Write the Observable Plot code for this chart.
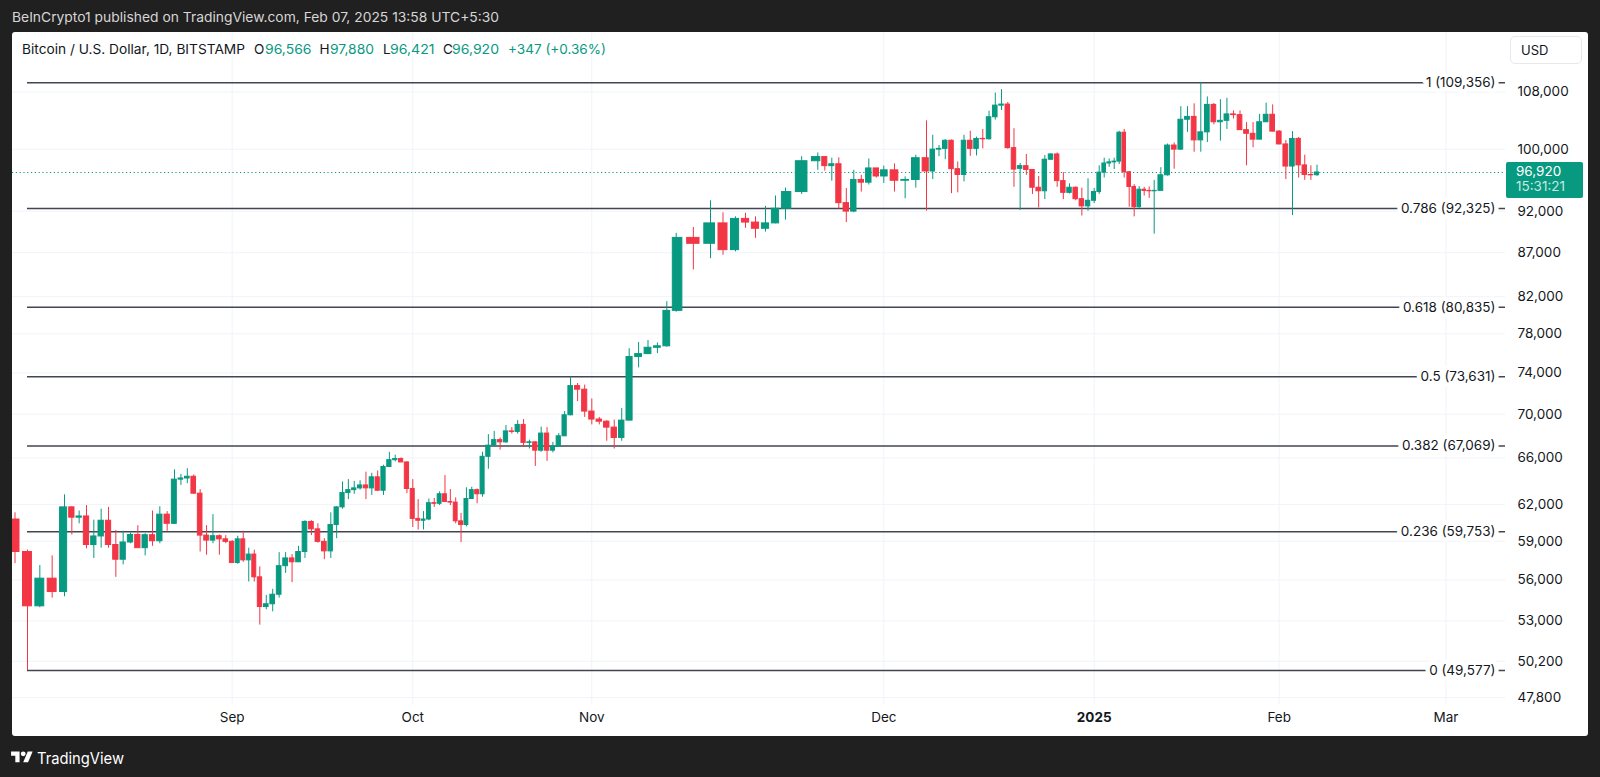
<!DOCTYPE html>
<html><head><meta charset="utf-8">
<script src="https://cdn.jsdelivr.net/npm/d3@7"></script>
<script src="https://cdn.jsdelivr.net/npm/@observablehq/plot@0.6"></script>
<style>
html,body{margin:0;padding:0;background:#202020;width:1600px;height:777px;overflow:hidden;font-family:Inter,"Noto Sans",sans-serif;}
#panel{position:absolute;left:12px;top:32px;width:1576px;height:704px;background:#fff;border-radius:3px;}
#chart{position:absolute;left:0;top:0;}
.t{position:absolute;white-space:nowrap;transform-origin:0 50%;line-height:1;}
</style></head>
<body>
<div id="panel"></div>
<div id="chart"></div>
<script>
// ---- data (Bitstamp BTC/USD daily, Aug 4 2024 – Feb 7 2025) ----
const firstDay = "2024-08-04", lastDay = "2025-02-07";
const open = [
 // Aug 4-31
 60750,58150,54050,56100,55100,61750,60900,61000,58700,59380,60650,58700,57550,58900,59500,58450,59480,59000,61150,60400,64100,64200,64350,62900,59450,59050,59400,59150,
 // Sep
 58950,57300,59150,57500,57950,56200,54000,54200,54900,57050,57650,57350,58150,60550,59950,58950,58200,60300,61750,62950,63200,63350,63600,63350,64300,63150,65200,65800,65900,65600,
 // Oct
 63300,60800,60650,60750,62100,62050,62850,62200,62150,60600,60300,62450,63200,62850,66100,67100,67600,67400,68400,68350,69000,67350,67400,66650,68200,66650,67000,67950,69900,72700,72350,
 // Nov
 70250,69500,69300,68750,67800,69400,75600,75900,76550,76700,80450,88750,88050,90500,87300,91050,90600,89850,90500,92300,94400,98400,98950,97750,98000,93000,91950,95950,95600,97450,
 // Dec
 96400,97200,95850,95950,98800,97050,99950,100050,101150,97350,96600,101150,100050,101400,101350,104400,106050,106200,100150,97400,97750,97250,94950,94500,98600,99300,95800,94300,94950,93500,92600,
 // Jan
 93300,94400,96900,98100,98250,98350,102250,96950,95050,92500,94700,94550,94500,94550,96550,100500,99950,104050,104450,101200,102300,106150,103700,103900,104800,104700,102600,102100,101300,103700,104750,
 // Feb 1-7
 102400,100650,97700,101400,97850,96600,96566
];
const high = [
 61300,58300,57100,57850,62800,61800,61450,61900,60700,61600,61750,59850,59800,59650,60250,59600,61450,61800,61400,64950,64550,65050,64500,63250,60250,61150,59500,59450,
 59050,59400,59800,58450,58300,57000,54850,55300,58100,58100,57950,58600,60650,60650,60400,59200,61300,61800,63900,64100,63950,64000,64750,64650,64850,65350,66500,66250,66000,65650,
 64100,62400,61400,62450,62500,63050,64450,63250,62550,61250,63400,63450,63300,66500,68100,68400,67800,68950,68750,69400,69500,67600,67450,68800,68750,67400,68200,70250,73600,72950,72800,
 71450,69700,69400,69450,70550,76450,77100,77300,77050,81450,89300,90000,93300,91800,91300,91750,91300,92600,93900,94900,99000,99500,98950,98800,98850,94850,97200,96550,98700,97450,
 97750,98050,96350,99200,103900,101900,100500,101300,101250,98300,101900,102450,101650,102700,105250,107850,108350,106500,102800,98100,99300,97300,96400,99150,99400,99500,96900,95450,95050,94900,96100,
 94850,97800,98800,98700,98800,102450,102700,97000,95350,95100,95000,95050,95900,97550,100700,100850,105900,105900,106300,109356,107300,106350,106900,107100,105300,105300,103650,103650,104800,106400,106150,
 102550,101200,102400,101600,99200,97800,97880
];
const low = [
 57250,49577,53950,54650,54750,59500,60400,58400,57650,58450,58450,56200,57150,58800,58450,57850,58600,58800,59800,60350,63600,63750,62850,58150,57900,58800,57900,58800,
 57250,57200,57350,55850,55850,52700,53800,53650,54650,56500,55800,57350,57650,59450,58850,57550,57650,59200,61600,62400,62850,63200,62400,62750,63100,62750,65150,65650,65650,62900,
 60100,59900,59900,60650,61750,61900,62150,61900,60400,58900,60150,62500,62050,62600,65000,67000,66700,67300,68150,68150,66950,66800,65250,66500,65700,66450,67000,67950,69850,71200,69700,
 69000,69000,67500,66800,67500,69400,74500,75850,75950,76600,80300,85000,86300,86700,87100,89900,88700,89450,90450,90900,94100,97200,97100,95800,92250,90600,91800,94400,95300,96200,
 95500,94400,93550,94900,92000,96000,99000,98600,94200,94300,95700,99050,99100,100050,101250,104000,105350,100000,95000,92100,96550,94100,92400,93450,98500,95000,93450,94150,93300,91400,92000,
 92950,94100,96200,97600,97300,97950,96200,92500,91300,92350,93900,93600,89200,94600,96450,97350,99850,102300,99600,99600,100900,103350,101100,102700,104150,102600,97800,100200,101300,103650,102350,
 100600,96000,91450,96200,95900,95900,96421
];
const close = [
 58150,54050,56100,55100,61750,60900,61000,58700,59380,60650,58700,57550,58900,59500,58450,59480,59000,61150,60400,64100,64200,64350,62900,59450,59050,59400,59150,58950,
 57300,59150,57500,57950,56200,54000,54200,54900,57050,57650,57350,58150,60550,59950,58950,58200,60300,61750,62950,63200,63350,63600,63350,64300,63150,65200,65800,65900,65600,63300,
 60800,60650,60750,62100,62050,62850,62200,62150,60600,60300,62450,63200,62850,66100,67100,67600,67400,68400,68350,69000,67350,67400,66650,68200,66650,67000,67950,69900,72700,72350,70250,
 69500,69300,68750,67800,69400,75600,75900,76550,76700,80450,88750,88050,90500,87300,91050,90600,89850,90500,92300,94400,98400,98950,97750,98000,93000,91950,95950,95600,97450,96400,
 97200,95850,95950,98800,97050,99950,100050,101150,97350,96600,101150,100050,101400,101350,104400,106050,106200,100150,97300,97750,97250,94950,94500,98600,99300,95800,94300,94950,93500,92600,93300,
 94400,96900,98100,98250,98350,102250,96950,95050,92500,94700,94550,94500,94550,96550,100500,99950,104050,104450,101200,102300,106150,103700,103900,104800,104700,102600,102100,101300,103700,104750,102400,
 100650,97700,101400,97850,96600,96550,96920
];
// Fibonacci retracement levels drawn on the chart
const fibLevels = [1, 0.786, 0.618, 0.5, 0.382, 0.236, 0];
const fibPrices = [109356, 92325, 80835, 73631, 67069, 59753, 49577];
const fibStartDay = "2024-08-05", fibEndDay = "2025-03-12";
// axis ticks
const priceTicks = [47800, 50200, 53000, 56000, 59000, 62000, 66000, 70000, 74000, 78000, 82000, 87000, 92000, 100000, 108000];
const monthTicks = ["2024-09-01","2024-10-01","2024-11-01","2024-12-01","2025-01-01","2025-02-01","2025-03-01"];
const monthLabels = ["Sep","Oct","Nov","Dec","2025","Feb","Mar"];
// header
const headerText = "BeInCrypto1 published on TradingView.com, Feb 07, 2025 13:58 UTC+5:30";
const symbolText = "Bitcoin / U.S. Dollar, 1D, BITSTAMP";
const lastChange = "+347 (+0.36%)";
const countdown = "15:31:21";

// ---- build table ----
const days = d3.utcDays(new Date(firstDay), d3.utcDay.offset(new Date(lastDay), 1));
const candles = days.map((d, i) => ({date: d, open: open[i], high: high[i], low: low[i], close: close[i]}));
const last = candles[candles.length - 1];
const up = "#089981", down = "#f23645";
const col = d => d.close >= d.open ? up : down;
const fibs = fibLevels.map((l, i) => ({level: l, price: fibPrices[i]}));
const ticksX = monthTicks.map((d, i) => ({date: new Date(d), label: monthLabels[i]}));
const fmt = d3.format(",");
const halfDay = 0.36 * 864e5;

const chart = Plot.plot({
  width: 1600, height: 777,
  marginLeft: 12, marginRight: 95, marginTop: 32, marginBottom: 73,
  style: {background: "transparent", fontFamily: "Inter, sans-serif", fontSize: "13.5px", overflow: "visible"},
  x: {type: "utc", axis: null,
      domain: ["2024-08-04","2024-08-05","2024-08-08","2024-08-23","2024-09-01","2024-09-06","2024-09-17","2024-10-01","2024-10-14","2024-10-29","2024-11-01","2024-11-06","2024-11-11","2024-11-13","2024-11-15","2024-11-20","2024-11-22","2024-11-25","2024-12-01","2024-12-05","2024-12-18","2025-01-01","2025-01-13","2025-01-20","2025-02-01","2025-02-03","2025-02-07","2025-03-01"].map(d => new Date(d)),
      range: [14.5,27,64,174,231.7,259.3,330.3,412.3,482,570,591.3,628.7,675.7,710,735,785,817.3,838.3,883.3,926,1007.3,1093.7,1153.7,1200.3,1278.7,1292,1316.5,1445.5]},
  y: {type: "log", axis: null, domain: [49577, 109356], range: [670, 82.3]},
  color: {type: "identity"},
  marks: [
    Plot.gridY(priceTicks, {stroke: "#f0f3fa", strokeOpacity: 1}),
    Plot.gridX(ticksX.map(d => d.date), {stroke: "#f0f3fa", strokeOpacity: 1}),
    Plot.ruleY(fibs, {y: "price", x1: () => new Date(fibStartDay), x2: () => new Date(fibEndDay),
      stroke: "#434651", strokeWidth: 1.5, clip: "frame"}),
    Plot.ruleY([last.close], {stroke: up, strokeDasharray: "1.2,2.6", strokeWidth: 1}),
    Plot.ruleX(candles, {x: "date", y1: "low", y2: "high", stroke: col, strokeWidth: 1, clip: "frame"}),
    Plot.rect(candles, {
      x1: d => new Date(+d.date - halfDay), x2: d => new Date(+d.date + halfDay),
      y1: "open", y2: "close", fill: col, stroke: col, strokeWidth: 1, clip: "frame"}),
    Plot.text(fibs, {y: "price", text: d => `${d.level} (${fmt(d.price)})`, frameAnchor: "right", dx: -10,
      textAnchor: "end", fill: "#131722", stroke: "white", strokeWidth: 9, fontSize: 13.5}),
    Plot.text(priceTicks, {y: d => d, text: d => fmt(d), frameAnchor: "right", dx: 12, textAnchor: "start", fill: "#131722", fontSize: 13.5}),
    Plot.text(ticksX.filter(d => d.label !== "2025"), {x: "date", text: "label", frameAnchor: "bottom", dy: 17, fill: "#131722", fontSize: 13.5}),
    Plot.text(ticksX.filter(d => d.label === "2025"), {x: "date", text: "label", frameAnchor: "bottom", dy: 17, fill: "#131722", fontSize: 13.5, fontWeight: "bold"})
  ]
});
document.getElementById("chart").appendChild(chart);

// ---- html text overlays ----
function place(txt, left, cy, width, style) {
  const el = document.createElement("div");
  el.className = "t"; el.textContent = txt;
  Object.assign(el.style, style);
  el.style.left = left + "px";
  document.body.appendChild(el);
  const r = el.getBoundingClientRect();
  el.style.top = (cy - r.height / 2) + "px";
  if (width) el.style.transform = `scaleX(${width / r.width})`;
  return el;
}
place(headerText, 12, 18, 487, {color: "#d6d6d6", fontSize: "13.5px"});
const dark = {color: "#131722", fontSize: "13.5px"};
const grn = {color: up, fontSize: "13.5px"};
place(symbolText, 21.5, 49.5, 223, dark);
place("O", 254, 49.5, 0, dark); place(fmt(last.open), 264.5, 49.5, 46.5, grn);
place("H", 319.5, 49.5, 0, dark); place(fmt(last.high), 330, 49.5, 44, grn);
place("L", 383, 49.5, 0, dark); place(fmt(last.low), 389.5, 49.5, 44.5, grn);
place("C", 443, 49.5, 0, dark); place(fmt(last.close), 452, 49.5, 47, grn);
place(lastChange, 508, 49.5, 98, grn);

// USD button
const usd = document.createElement("div");
Object.assign(usd.style, {position: "absolute", left: "1510px", top: "36px", width: "72px", height: "28px",
  border: "1px solid #e6e8ee", borderRadius: "5px", boxSizing: "border-box", background: "#fff"});
document.body.appendChild(usd);
place("USD", 1521, 50.5, 0, {color: "#131722", fontSize: "13px"});

// last price tag positioned with Plot's y scale
const py = chart.scale("y").apply(last.close);
const tag = document.createElement("div");
Object.assign(tag.style, {position: "absolute", left: "1506px", top: (py - 9.5) + "px", width: "77px", height: "35.5px",
  background: up, borderRadius: "2px"});
document.body.appendChild(tag);
place(fmt(last.close), 1516, py, 0, {color: "#ffffff", fontSize: "13.5px"});
place(countdown, 1516, py + 15, 0, {color: "rgba(255,255,255,0.78)", fontSize: "13.5px"});

// TradingView footer
const logo = document.createElementNS("http://www.w3.org/2000/svg", "svg");
logo.setAttribute("width", "22"); logo.setAttribute("height", "17"); logo.setAttribute("viewBox", "0 0 36 28");
logo.style.position = "absolute"; logo.style.left = "11px"; logo.style.top = "749px";
logo.innerHTML = '<path d="M14 22H7V11H0V4h14v18zM28 22h-8l7.5-18h8L28 22z" fill="#fff"/><circle cx="20" cy="8" r="4" fill="#fff"/>';
document.body.appendChild(logo);
place("TradingView", 37, 757.5, 87, {color: "#ffffff", fontSize: "16px"});
</script>
</body></html>
